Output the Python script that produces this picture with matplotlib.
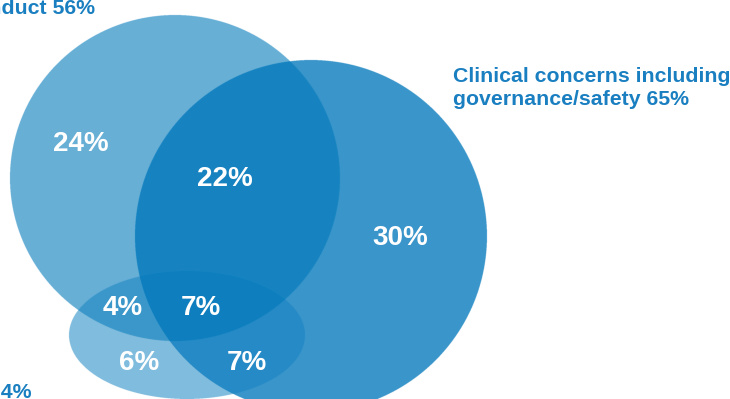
import numpy as np
import matplotlib
matplotlib.use("Agg")
import matplotlib.pyplot as plt

plt.rcParams['font.family'] = ['Liberation Sans', 'DejaVu Sans']

# Sets and their overall shares
set_names = ["Conduct", "Clinical concerns including\ngovernance/safety", "Health"]
set_totals = [56, 65, 24]

# Share of each region of the diagram
region_names = ["conduct_only", "conduct_clinical", "clinical_only",
                "conduct_health", "all_three", "health_only", "clinical_health"]
region_values = [24, 22, 30, 4, 7, 6, 7]

W, H = 730, 399
fig = plt.figure(figsize=(W / 100, H / 100), dpi=100)
ax = fig.add_axes([0, 0, 1, 1])
ax.set_xlim(0, W)
ax.set_ylim(H, 0)
ax.axis("off")

# Shape geometry (pixel space): centre x, centre y, semi-axis x, semi-axis y
conduct_shape = (175, 178, 165, 163)
clinical_shape = (311, 236, 176, 176)
health_shape = (187, 335, 118, 64)

ss = 4
xs = (np.arange(W * ss) + 0.5) / ss
ys = (np.arange(H * ss) + 0.5) / ss
X, Y = np.meshgrid(xs, ys)

def inside(shape):
    cx, cy, rx, ry = shape
    return ((X - cx) / rx) ** 2 + ((Y - cy) / ry) ** 2 <= 1.0

A = inside(conduct_shape)
B = inside(clinical_shape)
C = inside(health_shape)

colors = {
    "conduct_only": (0x67, 0xAF, 0xD6),
    "clinical_only": (0x3A, 0x96, 0xCA),
    "conduct_clinical": (0x17, 0x84, 0xC1),
    "health_only": (0x80, 0xBC, 0xDD),
    "conduct_health": (0x3C, 0x98, 0xCB),
    "clinical_health": (0x25, 0x8A, 0xC6),
    "all_three": (0x0E, 0x7F, 0xBE),
}

img = np.ones((H * ss, W * ss, 3))
masks = {
    "conduct_only": A & ~B & ~C,
    "clinical_only": B & ~A & ~C,
    "conduct_clinical": A & B & ~C,
    "health_only": C & ~A & ~B,
    "conduct_health": A & C & ~B,
    "clinical_health": B & C & ~A,
    "all_three": A & B & C,
}
for name, m in masks.items():
    img[m] = np.array(colors[name]) / 255.0

ax.imshow(img, extent=(0, W, H, 0), interpolation="antialiased", zorder=1)

# Region value labels
label_pos = {
    "conduct_only": (81, 144),
    "conduct_clinical": (225, 179),
    "clinical_only": (400, 238),
    "conduct_health": (123, 308),
    "all_three": (201, 308),
    "health_only": (139, 363),
    "clinical_health": (247, 363),
}
for name, val in zip(region_names, region_values):
    x, y = label_pos[name]
    ax.text(x, y, f"{val}%", color="white", fontsize=20, fontweight="bold",
            ha="center", va="center", zorder=3)

# Set labels (the outer two run off the left edge)
label_color = "#1A7FC0"
ax.text(95, 9, f"{set_names[0]} {set_totals[0]}%", color=label_color,
        fontsize=15.3, fontweight="bold", ha="right", va="center", zorder=3)
ax.text(453, 88, f"{set_names[1]} {set_totals[1]}%", color=label_color,
        fontsize=15.3, fontweight="bold", ha="left", va="center",
        linespacing=1.32, zorder=3)
ax.text(31, 393, f"{set_names[2]} {set_totals[2]}%", color=label_color,
        fontsize=15.3, fontweight="bold", ha="right", va="center", zorder=3)

fig.savefig("out.png", dpi=100)
